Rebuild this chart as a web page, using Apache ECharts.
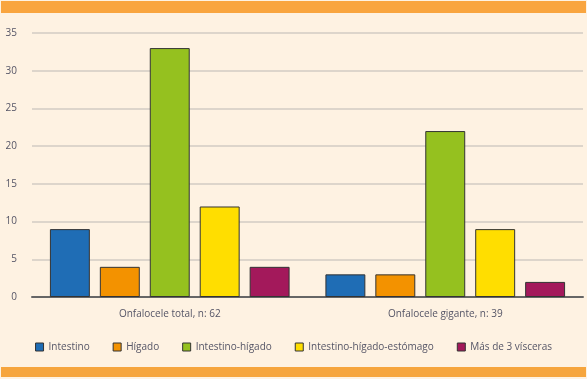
<!DOCTYPE html>
<html>
<head>
<meta charset="utf-8">
<script src="https://cdn.jsdelivr.net/npm/echarts@6/dist/echarts.min.js"></script>
<style>
html, body { margin: 0; padding: 0; background: #fef2e2; }
#chart { width: 587px; height: 379px; }
</style>
</head>
<body>
<div id="chart"></div>
<script>
var myChart = echarts.init(document.getElementById('chart'));

var categories = ['Onfalocele total, n: 62', 'Onfalocele gigante, n: 39'];
var seriesNames = ['Intestino', 'Hígado', 'Intestino-hígado', 'Intestino-hígado-estómago', 'Más de 3 vísceras'];
var intestino = [9, 3];
var higado = [4, 3];
var intestinoHigado = [33, 22];
var intestinoHigadoEstomago = [12, 9];
var masDe3 = [4, 2];
var colors = ['#1f6db5', '#f39200', '#95c11f', '#ffde00', '#a3195b'];

var allData = [intestino, higado, intestinoHigado, intestinoHigadoEstomago, masDe3];
var series = [];
for (var i = 0; i < seriesNames.length; i++) {
	series.push({
		name: seriesNames[i],
		type: 'bar',
		data: allData[i],
		barGap: '25%',
		barCategoryGap: '13%',
		itemStyle: {
			color: colors[i],
			borderColor: '#333',
			borderWidth: 1
		}
	});
}

var textColor = '#555566';

option = {
	backgroundColor: '#fef2e2',
	textStyle: { fontFamily: 'Open Sans' },
	graphic: [
		{ type: 'rect', shape: { x: 1, y: 1, width: 585, height: 12 }, style: { fill: '#f9a53f' } },
		{ type: 'rect', shape: { x: 1, y: 367, width: 585, height: 10 }, style: { fill: '#f6a53d' } }
	],
	grid: {
		left: 32,
		right: 4,
		top: 33,
		bottom: 82
	},
	legend: {
		data: seriesNames,
		top: 337,
		left: 'center',
		itemWidth: 8,
		itemHeight: 8,
		itemGap: 23,
		icon: 'rect',
		textStyle: { color: textColor, fontSize: 10 },
		itemStyle: { borderColor: '#333', borderWidth: 1 }
	},
	xAxis: {
		type: 'category',
		data: categories,
		axisLine: { show: true, lineStyle: { color: '#666', width: 2 } },
		axisTick: { show: false },
		axisLabel: { color: textColor, fontSize: 10, margin: 12 }
	},
	yAxis: {
		type: 'value',
		min: 0,
		max: 35,
		interval: 5,
		axisLine: { show: false },
		axisTick: { show: false },
		axisLabel: { color: textColor, fontSize: 10, margin: 15 },
		splitLine: { lineStyle: { color: '#ddd5cb', width: 2 } }
	},
	series: series
};

myChart.setOption(option);
</script>
</body>
</html>
